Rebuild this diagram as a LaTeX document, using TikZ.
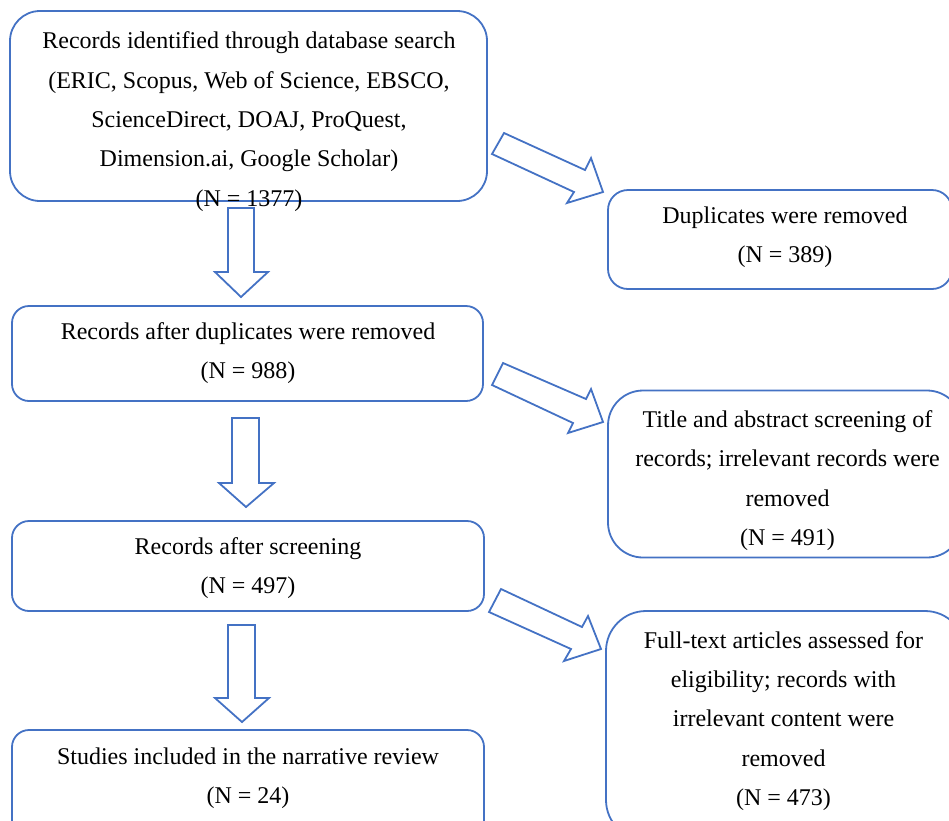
\documentclass[tikz,border=0pt]{standalone}
\usepackage{fontspec}
\setmainfont{Liberation Serif}
\definecolor{obl}{HTML}{4472C4}
\begin{document}
\begin{tikzpicture}[x=1pt,y=-1pt,
  box/.style={draw=obl, line width=1.8pt, inner sep=0pt},
  txt/.style={font=\fontsize{24}{39.3}\selectfont, align=center, inner sep=0pt, text=black},
  barrow/.style={draw=obl, line width=1.8pt, line join=miter}]
\useasboundingbox (0,0) rectangle (949,820);
\clip (0,0) rectangle (949,820);
% boxes
\node[box, rounded corners=30pt, minimum width=477pt, minimum height=190pt] (b1) at (248.5,106) {};
\node[box, rounded corners=20pt, minimum width=344pt, minimum height=99pt] (dup) at (780,239.5) {};
\node[box, rounded corners=17pt, minimum width=471pt, minimum height=95pt] (b2) at (247.5,353.5) {};
\node[box, rounded corners=35pt, minimum width=354pt, minimum height=167pt] (tit) at (785,474) {};
\node[box, rounded corners=17pt, minimum width=472pt, minimum height=90pt] (b3) at (248,566) {};
\node[box, rounded corners=40pt, minimum width=359pt, minimum height=229pt] (ful) at (785.5,725.5) {};
\node[box, rounded corners=17pt, minimum width=472pt, minimum height=110pt] (b4) at (248,785) {};
% texts
\node[txt] (t1) at (249,121.5) {Records identified through database search\\(ERIC, Scopus, Web of Science, EBSCO,\\ScienceDirect, DOAJ, ProQuest,\\Dimension.ai, Google Scholar)\\(N = 1377)};
\node[txt] (tdup) at (785,237) {Duplicates were removed\\(N = 389)};
\node[txt] (t2) at (248,353) {Records after duplicates were removed\\(N = 988)};
\node[txt] (ttit) at (787.5,480.5) {Title and abstract screening of\\records; irrelevant records were\\removed\\(N = 491)};
\node[txt] (t3) at (248,568) {Records after screening\\(N = 497)};
\node[txt] (tful) at (783.5,721) {Full-text articles assessed for\\eligibility; records with\\irrelevant content were\\removed\\(N = 473)};
\node[txt] (t4) at (248,778) {Studies included in the narrative review\\(N = 24)};
% diagonal block arrows
\draw[barrow] (504,133) -- (585,170) -- (591,158) -- (603,192) -- (567,203) -- (574,192) -- (492,154) -- cycle;
\draw[barrow] (503,363) -- (586,399) -- (591,389) -- (603,422) -- (568,433) -- (573,423) -- (492,385) -- cycle;
\draw[barrow] (501,589) -- (582,627) -- (588,616) -- (601,649) -- (564,661) -- (571,649) -- (489,612) -- cycle;
% down block arrows
\draw[barrow] (228,208) -- (254,208) -- (254,272) -- (268,272) -- (241,297) -- (215,272) -- (228,272) -- cycle;
\draw[barrow] (232,418) -- (259,418) -- (259,483) -- (274,483) -- (246,507) -- (219,483) -- (232,483) -- cycle;
\draw[barrow] (228,625) -- (255,625) -- (255,698) -- (269,698) -- (242,722) -- (215,698) -- (228,698) -- cycle;
\end{tikzpicture}
\end{document}
